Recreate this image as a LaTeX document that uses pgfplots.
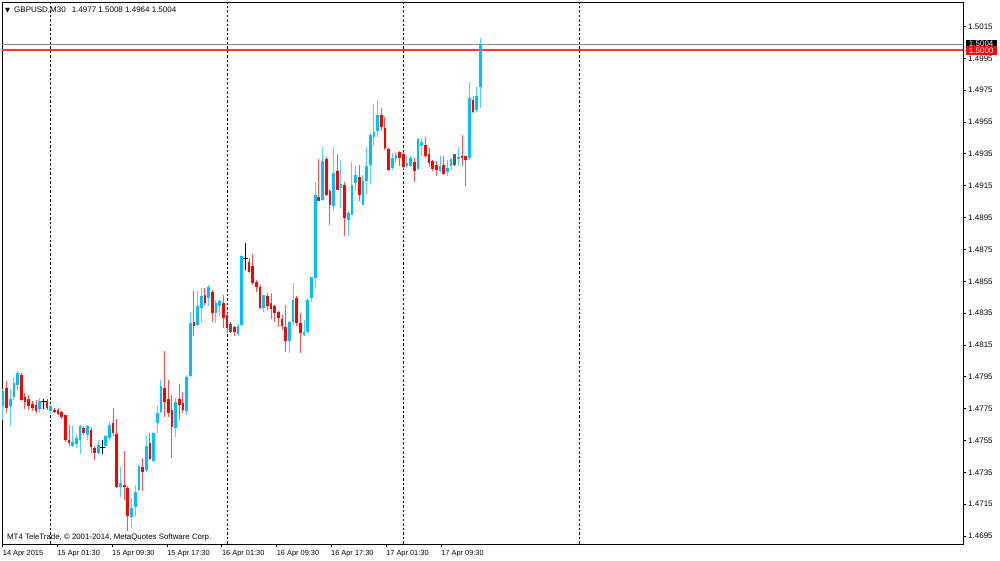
\documentclass[border=0pt]{standalone}
\usepackage{fontspec}
\setmainfont{Liberation Sans}
\newfontfamily\dejavu{DejaVu Sans}
\usepackage{pgfplots}
\usepackage{pgfplotstable}
\pgfplotsset{compat=1.18}

\definecolor{bull}{RGB}{0,191,255}
\definecolor{bear}{RGB}{255,0,0}
\definecolor{bidline}{RGB}{125,138,150}

% GBPUSD M30 bars, index i = bar number from the left edge
\pgfplotstableread{
i o h l c
0 1.47764 1.47873 1.47680 1.47858
2 1.47764 1.47873 1.47638 1.47810
3 1.47826 1.47942 1.47806 1.47910
4 1.47900 1.47984 1.47868 1.47973
10 1.47747 1.47816 1.47722 1.47795
13 1.47732 1.47774 1.47717 1.47764
19 1.47516 1.47638 1.47508 1.47543
20 1.47529 1.47585 1.47502 1.47564
21 1.47554 1.47648 1.47466 1.47642
23 1.47585 1.47648 1.47554 1.47638
26 1.47470 1.47554 1.47466 1.47522
28 1.47516 1.47585 1.47502 1.47575
29 1.47564 1.47663 1.47554 1.47648
32 1.47256 1.47386 1.47193 1.47281
35 1.47072 1.47187 1.46998 1.47124
36 1.47135 1.47271 1.47072 1.47229
37 1.47240 1.47397 1.47235 1.47390
39 1.47365 1.47579 1.47355 1.47516
41 1.47424 1.47606 1.47407 1.47600
42 1.47659 1.47764 1.47600 1.47722
43 1.47726 1.47931 1.47722 1.47889
47 1.47627 1.47815 1.47570 1.47794
50 1.47732 1.47962 1.47711 1.47947
51 1.47952 1.48354 1.47947 1.48287
53 1.48276 1.48486 1.48266 1.48392
54 1.48381 1.48507 1.48287 1.48455
56 1.48444 1.48524 1.48392 1.48511
58 1.48350 1.48434 1.48287 1.48413
59 1.48392 1.48434 1.48329 1.48423
64 1.48218 1.48281 1.48209 1.48272
65 1.48276 1.48712 1.48272 1.48706
71 1.48381 1.48465 1.48356 1.48461
78 1.48172 1.48297 1.48098 1.48293
79 1.48293 1.48538 1.48276 1.48434
82 1.48214 1.48308 1.48209 1.48230
83 1.48234 1.48444 1.48224 1.48434
84 1.48446 1.48578 1.48421 1.48578
85 1.48572 1.49174 1.48515 1.49094
87 1.49062 1.49391 1.49056 1.49307
90 1.49020 1.49391 1.48989 1.49230
92 1.49135 1.49303 1.49010 1.49161
94 1.48936 1.48993 1.48832 1.48978
95 1.48968 1.49299 1.48964 1.49157
96 1.49167 1.49272 1.49115 1.49219
98 1.49031 1.49215 1.49031 1.49182
99 1.49182 1.49391 1.49098 1.49272
100 1.49278 1.49481 1.49161 1.49471
101 1.49454 1.49664 1.49398 1.49488
102 1.49496 1.49691 1.49454 1.49597
106 1.49261 1.49356 1.49251 1.49324
107 1.49320 1.49362 1.49293 1.49341
110 1.49276 1.49335 1.49261 1.49293
111 1.49276 1.49339 1.49268 1.49324
113 1.49255 1.49450 1.49251 1.49444
114 1.49402 1.49450 1.49339 1.49423
119 1.49240 1.49335 1.49230 1.49272
121 1.49234 1.49314 1.49209 1.49261
122 1.49272 1.49324 1.49251 1.49318
124 1.49318 1.49393 1.49276 1.49330
127 1.49324 1.49800 1.49314 1.49701
129 1.49628 1.49771 1.49611 1.49712
130 1.49770 1.50080 1.49640 1.50040
}\bulltab

\pgfplotstableread{
i o h l c
1 1.47879 1.47921 1.47722 1.47753
5 1.47963 1.47973 1.47801 1.47806
6 1.47822 1.47847 1.47747 1.47789
7 1.47810 1.47837 1.47743 1.47764
8 1.47780 1.47795 1.47732 1.47753
9 1.47770 1.47806 1.47722 1.47732
12 1.47795 1.47810 1.47743 1.47753
14 1.47743 1.47753 1.47722 1.47728
15 1.47743 1.47753 1.47711 1.47717
16 1.47726 1.47732 1.47684 1.47696
17 1.47711 1.47711 1.47543 1.47554
18 1.47554 1.47648 1.47516 1.47537
22 1.47627 1.47638 1.47585 1.47596
24 1.47617 1.47627 1.47470 1.47508
25 1.47502 1.47516 1.47428 1.47474
30 1.47659 1.47753 1.47579 1.47596
31 1.47592 1.47684 1.47250 1.47256
33 1.47271 1.47481 1.47177 1.47256
34 1.47250 1.47261 1.46984 1.47078
38 1.47386 1.47439 1.47235 1.47355
40 1.47533 1.47600 1.47428 1.47432
44 1.47878 1.48109 1.47700 1.47794
45 1.47809 1.47931 1.47696 1.47725
46 1.47742 1.47836 1.47438 1.47637
48 1.47809 1.47905 1.47679 1.47773
49 1.47788 1.47857 1.47725 1.47742
52 1.48297 1.48486 1.48203 1.48266
55 1.48461 1.48507 1.48402 1.48413
57 1.48482 1.48497 1.48293 1.48350
60 1.48413 1.48461 1.48255 1.48318
61 1.48335 1.48350 1.48224 1.48255
63 1.48260 1.48266 1.48203 1.48230
67 1.48670 1.48696 1.48601 1.48608
68 1.48643 1.48721 1.48528 1.48538
69 1.48545 1.48559 1.48482 1.48511
70 1.48511 1.48528 1.48377 1.48381
72 1.48455 1.48476 1.48371 1.48392
73 1.48413 1.48476 1.48314 1.48377
74 1.48392 1.48402 1.48293 1.48350
75 1.48356 1.48364 1.48260 1.48318
76 1.48314 1.48339 1.48245 1.48266
77 1.48260 1.48398 1.48105 1.48176
80 1.48444 1.48455 1.48272 1.48287
81 1.48287 1.48350 1.48098 1.48224
86 1.49077 1.49320 1.49056 1.49056
88 1.49320 1.49328 1.49083 1.49094
89 1.49119 1.49131 1.48905 1.49031
91 1.49240 1.49349 1.49125 1.49125
93 1.49157 1.49173 1.48832 1.48947
97 1.49203 1.49282 1.49056 1.49089
103 1.49592 1.49639 1.49492 1.49517
104 1.49513 1.49580 1.49377 1.49387
105 1.49383 1.49387 1.49244 1.49251
108 1.49362 1.49366 1.49272 1.49324
109 1.49350 1.49360 1.49258 1.49270
112 1.49297 1.49324 1.49171 1.49240
115 1.49408 1.49456 1.49324 1.49335
116 1.49351 1.49387 1.49268 1.49293
117 1.49303 1.49314 1.49240 1.49255
118 1.49282 1.49303 1.49213 1.49251
120 1.49282 1.49339 1.49219 1.49226
125 1.49339 1.49471 1.49276 1.49324
126 1.49339 1.49339 1.49146 1.49314
128 1.49691 1.49716 1.49607 1.49611
}\beartab

\pgfplotstableread{
i o h l c
11 1.47795 1.47810 1.47747 1.47795
27 1.47508 1.47554 1.47466 1.47508
66 1.48691 1.48790 1.48622 1.48691
}\dojitab

\pgfplotstableread{
i o h l c
62 1.48230 1.48293 1.48225 1.48283
123 1.49282 1.49351 1.49272 1.49351
}\greytab

\pgfplotsset{
  wick/.style={forget plot, draw=none, mark=none,
    error bars/.cd, y dir=plus, y explicit, error mark=none,
    error bar style={draw=#1, line width=1pt}},
  body/.style={forget plot, draw=none, mark=none,
    error bars/.cd, y dir=plus, y explicit, error mark=none,
    error bar style={draw=#1, line width=2.7pt}},
  sep/.style={forget plot, black, line width=1pt, dash pattern=on 2.5pt off 2pt},
}

\begin{document}
\begin{tikzpicture}
\fill[white] (0,0) rectangle (1000pt,561pt);
\begin{axis}[
  at={(2pt,17pt)}, anchor=south west,
  scale only axis, width=961pt, height=542pt,
  xmin=-0.259, xmax=261.38, ymin=1.468997, ymax=1.50304,
  clip=false,
  axis line style={black, line width=0.8pt},
  tick align=outside, major tick length=3pt,
  tick style={black, line width=0.8pt},
  xtick pos=left, ytick pos=right, yticklabel pos=right,
  scaled y ticks=false,
  xtick={-0.07,14.8,29.7,44.7,59.6,74.5,89.3,104.3,119.3},
  xticklabels={14 Apr 2015,15 Apr 01:30,15 Apr 09:30,15 Apr 17:30,16 Apr 01:30,16 Apr 09:30,16 Apr 17:30,17 Apr 01:30,17 Apr 09:30},
  ytick={1.4695,1.4715,1.4735,1.4755,1.4775,1.4795,1.4815,1.4835,1.4855,1.4875,1.4895,1.4915,1.4935,1.4955,1.4975,1.4995,1.5015},
  yticklabels={1.4695,1.4715,1.4735,1.4755,1.4775,1.4795,1.4815,1.4835,1.4855,1.4875,1.4895,1.4915,1.4935,1.4955,1.4975,1.4995,1.5015},
  xticklabel style={anchor=north west, inner sep=0pt, yshift=-3.5pt, font=\fontsize{7.4}{8}\selectfont},
  yticklabel style={anchor=west, inner sep=0pt, xshift=2pt, font=\fontsize{8}{9}\selectfont},
]
% day separators
\addplot[sep] coordinates {(13,1.468997) (13,1.50304)};
\addplot[sep] coordinates {(61,1.468997) (61,1.50304)};
\addplot[sep] coordinates {(109,1.468997) (109,1.50304)};
\addplot[sep] coordinates {(157,1.468997) (157,1.50304)};
% price lines
\addplot[forget plot, bidline, line width=1pt] coordinates {(-0.259,1.5004) (261.38,1.5004)};
\addplot[forget plot, bear!80!white, line width=1.8pt] coordinates {(-0.259,1.5000) (261.38,1.5000)};
% candles
\addplot[wick=bull!70!white] table[x=i, y=l, y error expr=\thisrow{h}-\thisrow{l}] {\bulltab};
\addplot[body=bull] table[x=i, y=o, y error expr=\thisrow{c}-\thisrow{o}] {\bulltab};
\addplot[wick=bear!70!white] table[x=i, y=l, y error expr=\thisrow{h}-\thisrow{l}] {\beartab};
\addplot[body=bear] table[x=i, y=c, y error expr=\thisrow{o}-\thisrow{c}] {\beartab};
\addplot[wick=black!70] table[x=i, y=l, y error expr=\thisrow{h}-\thisrow{l}] {\greytab};
\addplot[body=black!65] table[x=i, y=o, y error expr=\thisrow{c}-\thisrow{o}] {\greytab};
\addplot[wick=black] table[x=i, y=l, y error expr=\thisrow{h}-\thisrow{l}] {\dojitab};
\addplot[forget plot, only marks, mark=-, mark size=2.5pt, mark options={black, line width=1pt}] table[x=i, y=o] {\dojitab};
% price labels on the scale
\node[fill=black, text=white, anchor=west, minimum width=31pt, minimum height=9pt, inner sep=0pt, font=\fontsize{8}{8}\selectfont] at (axis cs:261.38,1.5004) [xshift=2.5pt] {1.5004};
\node[fill=bear, text=white, anchor=west, minimum width=31pt, minimum height=9pt, inner sep=0pt, font=\fontsize{8}{8}\selectfont] at (axis cs:261.38,1.5000) [xshift=2.5pt] {1.5000};
\end{axis}
\node[anchor=west, inner sep=0pt] at (5pt,551pt) {{\dejavu\fontsize{6.5}{7}\selectfont ▼}\hspace{4pt}{\fontsize{8}{9}\selectfont GBPUSD,M30\hspace{6pt}1.4977 1.5008 1.4964 1.5004}};
\node[anchor=west, inner sep=0pt] at (7pt,24pt) {\fontsize{7.85}{9}\selectfont MT4 TeleTrade, © 2001-2014, MetaQuotes Software Corp.};
\pgfresetboundingbox
\path (0,0) rectangle (1000pt,561pt);
\end{tikzpicture}
\end{document}
